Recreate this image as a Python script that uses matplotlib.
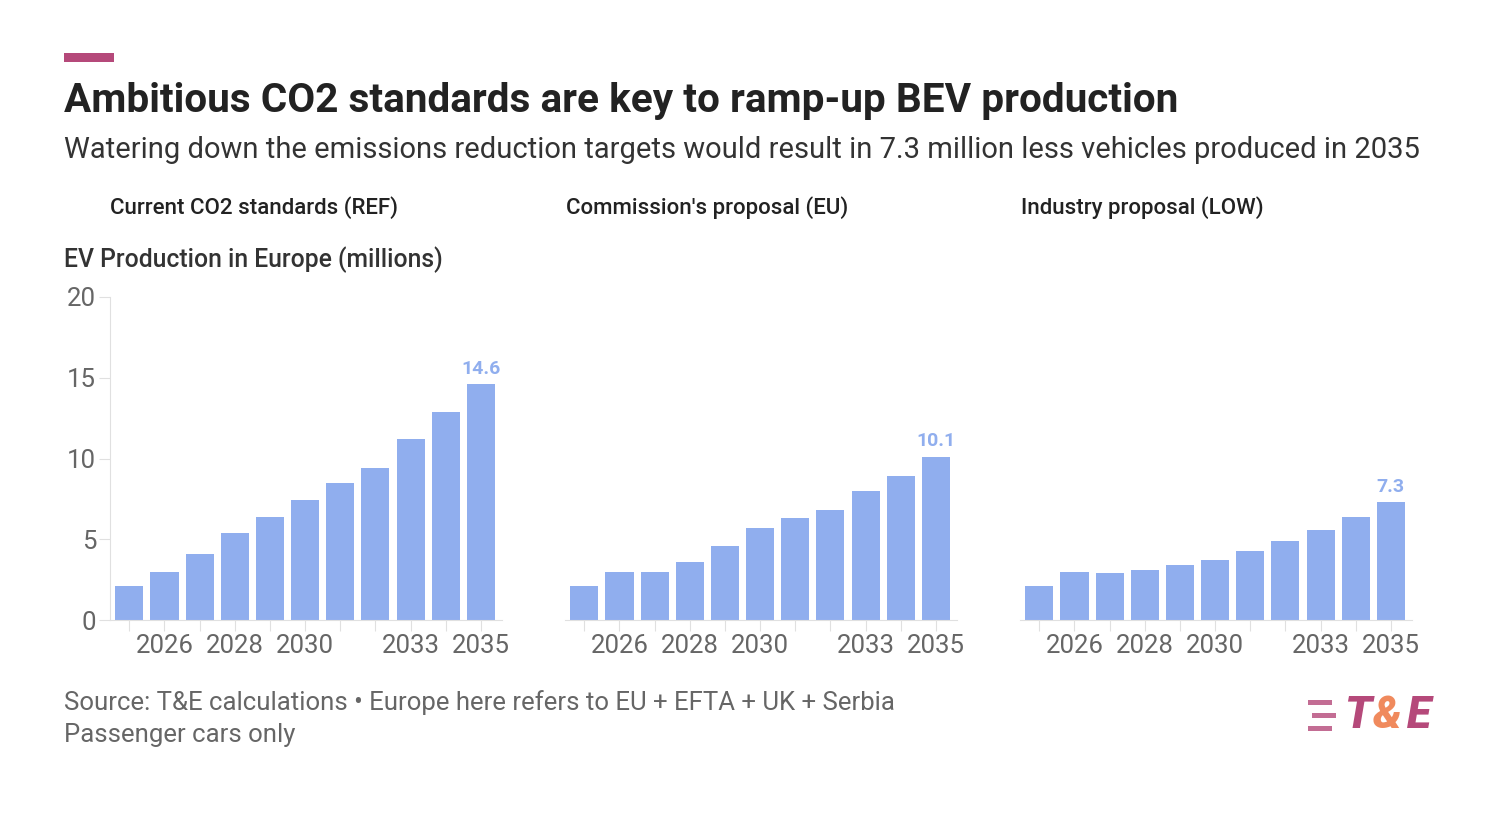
import matplotlib.pyplot as plt
import numpy as np

plt.rcParams['font.family'] = ['Roboto', 'DejaVu Sans']

years = list(range(2025, 2036))
ref_vals = [2.1, 3.0, 4.1, 5.4, 6.4, 7.4, 8.5, 9.4, 11.2, 12.9, 14.6]
eu_vals = [2.1, 3.0, 3.0, 3.6, 4.6, 5.7, 6.3, 6.8, 8.0, 8.9, 10.1]
low_vals = [2.1, 3.0, 2.9, 3.1, 3.4, 3.7, 4.3, 4.9, 5.6, 6.4, 7.3]
panel_titles = ['Current CO2 standards (REF)', "Commission's proposal (EU)", 'Industry proposal (LOW)']
tick_years = [2026, 2028, 2030, 2033, 2035]

W, H = 1500, 834
fig = plt.figure(figsize=(15, 8.34), dpi=100)
bar_color = '#90aeee'
grey = '#666666'

def fx(px): return px / W
def fy(py): return 1 - py / H

# header
fig.patches.append(plt.Rectangle((fx(64), fy(62)), fx(50), 9 / H, transform=fig.transFigure,
                                 color='#b5497a', lw=0))
fig.text(fx(64), fy(101), 'Ambitious CO2 standards are key to ramp-up BEV production',
         fontsize=29.2, fontweight='bold', color='#222222', va='center')
fig.text(fx(64), fy(150), 'Watering down the emissions reduction targets would result in 7.3 million less vehicles produced in 2035',
         fontsize=21, color='#333333', va='center')
fig.text(fx(64), fy(260), 'EV Production in Europe (millions)', fontsize=17.8, fontweight='medium',
         color='#333333', va='center')

lefts = [110, 565, 1020]
title_x = [110, 566, 1021]
for i, (vals, title) in enumerate(zip([ref_vals, eu_vals, low_vals], panel_titles)):
    ax = fig.add_axes([fx(lefts[i]), fy(620), fx(392), (620 - 297) / H])
    ax.bar(years, vals, width=0.8, color=bar_color)
    ax.set_ylim(0, 20)
    ax.set_xlim(2024.45, 2035.6)
    for s in ['top', 'right']:
        ax.spines[s].set_visible(False)
    ax.spines['bottom'].set_color('#e0e0e0')
    ax.spines['left'].set_color('#e0e0e0')
    if i > 0:
        ax.spines['left'].set_visible(False)
        ax.set_yticks([])
    else:
        ax.set_yticks([0, 5, 10, 15, 20])
        ax.tick_params(axis='y', length=8, color='#e0e0e0', labelsize=18.5, labelcolor=grey, pad=2)
    ax.set_xticks(years)
    ax.set_xticklabels([str(y) if y in tick_years else '' for y in years])
    ax.tick_params(axis='x', length=8, color='#e0e0e0', labelsize=18.5, labelcolor=grey, pad=2)
    ax.text(years[-1], vals[-1] + 0.4, f'{vals[-1]}', ha='center', va='bottom',
            fontsize=14, fontweight='bold', color=bar_color)
    fig.text(fx(title_x[i]), fy(208), title, fontsize=16, fontweight='medium', color='#222222', va='center')

fig.text(fx(64), fy(703), 'Source: T&E calculations • Europe here refers to EU + EFTA + UK + Serbia',
         fontsize=18.5, color=grey, va='center')
fig.text(fx(64), fy(735), 'Passenger cars only', fontsize=18.5, color=grey, va='center')

# logo
for y0, x0 in [(701, 1308), (714, 1312), (727, 1308)]:
    fig.patches.append(plt.Rectangle((fx(x0), fy(y0 + 4)), fx(24), 5 / H, transform=fig.transFigure,
                                     color='#b5497a', lw=0, alpha=0.8))
fig.text(fx(1344), fy(716), 'T', fontsize=32, fontweight='black', style='italic', color='#b5497a', va='center')
fig.text(fx(1373), fy(716), '&', fontsize=32, fontweight='black', style='italic', color='#f08a5d', va='center')
fig.text(fx(1407), fy(716), 'E', fontsize=32, fontweight='black', style='italic', color='#b5497a', va='center')

fig.savefig('out.png', dpi=100, facecolor='white')
